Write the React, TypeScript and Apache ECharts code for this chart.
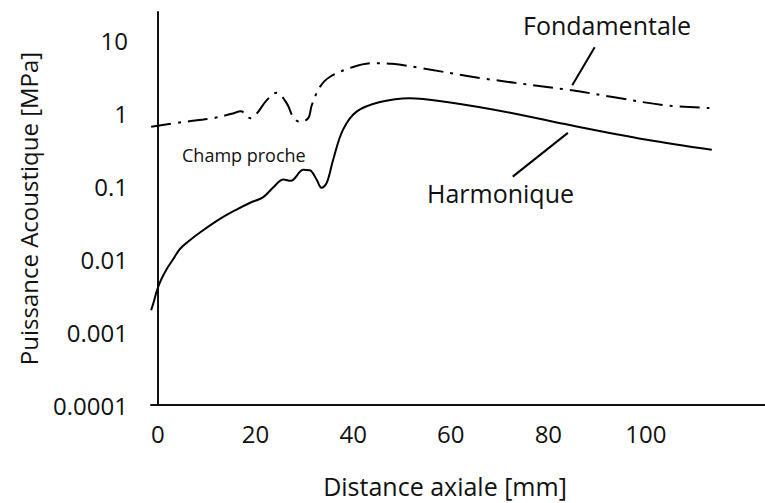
import React, { useEffect, useRef } from "react";
import * as echarts from "echarts";

// Fondamentale (dash-dot)
const fondX = [-1.4, 5.2, 11.3, 15.1, 17.0, 18.9, 20.2, 22.3, 24.3, 26.4, 27.7, 29.1, 30.8, 31.5, 33.2, 35.2, 40, 44, 48, 54.3, 66, 84.8, 93.2, 103.5, 113];
const fondY = [0.665, 0.77, 0.87, 1.0, 1.08, 0.87, 1.0, 1.54, 1.95, 1.39, 0.9, 0.77, 0.87, 1.3, 2.34, 3.2, 4.4, 4.95, 4.85, 4.2, 3.1, 2.1, 1.7, 1.32, 1.2];

// Harmonique (solid)
const harmX = [-1.4, -0.8, -0.3, 0.6, 1.8, 3.0, 4.5, 6.4, 8.6, 12.7, 16, 18.9, 21.5, 23.6, 25.7, 27.2, 29.8, 31.1, 32.5, 33.5, 34.6, 35.9, 37.9, 40.7, 45.5, 51.6, 59.2, 72.7, 84.4, 100.2, 113.5];
const harmY = [0.002, 0.0027, 0.0036, 0.0052, 0.0074, 0.0098, 0.0139, 0.018, 0.0234, 0.036, 0.048, 0.06, 0.071, 0.097, 0.125, 0.12, 0.17, 0.168, 0.125, 0.096, 0.113, 0.234, 0.6, 1.07, 1.45, 1.64, 1.45, 1.02, 0.7, 0.44, 0.32];

// Axis ticks
const xTicks = [0, 20, 40, 60, 80, 100];

// Leader lines (data coordinates)
const fondLeader = [[89.5, 8.2], [84.9, 2.47]];
const harmLeader = [[84.0, 0.547], [72.7, 0.137]];

const FONT = "'Open Sans', 'DejaVu Sans', sans-serif";

function fmtLog(v: number): string {
  const lg = Math.log10(v);
  const e = Math.round(lg);
  if (Math.abs(lg - e) > 1e-6) return "";
  if (e >= 0) return String(Math.pow(10, e));
  return "0." + "0".repeat(-e - 1) + "1";
}

export default function App() {
  const ref = useRef<HTMLDivElement>(null);
  useEffect(() => {
    document.body.style.margin = "0";
    if (!ref.current) return;
    const chart = echarts.init(ref.current, null, { renderer: "svg" });
    const pairs = (xs: number[], ys: number[]) => xs.map((x, i) => [x, ys[i]]);
    const leader = (pts: number[][]) => ({
      silent: true,
      symbol: ["none", "none"],
      label: { show: false },
      lineStyle: { type: "solid", color: "#000", width: 2 },
      data: [[{ coord: pts[0] }, { coord: pts[1] }]],
    });
    chart.setOption({
      animation: false,
      backgroundColor: "#fff",
      grid: { left: 151, right: 0, top: 12, bottom: 95, containLabel: false },
      xAxis: {
        type: "value",
        min: -1.43,
        max: 124.4,
        name: "Distance axiale [mm]",
        nameLocation: "middle",
        nameGap: 68,
        nameTextStyle: { fontFamily: FONT, fontSize: 25, color: "#111", padding: [0, 26, 0, 0] },
        axisLine: { show: true, lineStyle: { color: "#111", width: 2 } },
        axisTick: { show: false },
        splitLine: { show: false },
        axisLabel: {
          customValues: xTicks,
          fontFamily: FONT,
          fontSize: 24,
          color: "#111",
          margin: 16,
        },
      },
      yAxis: {
        type: "log",
        logBase: 10,
        min: 0.0001,
        max: 25,
        name: "Puissance Acoustique [MPa]",
        nameLocation: "middle",
        nameGap: 111,
        nameTextStyle: { fontFamily: FONT, fontSize: 24, color: "#111" },
        axisLine: { show: true, lineStyle: { color: "#111", width: 2 } },
        axisTick: { show: false },
        splitLine: { show: false },
        minorTick: { show: false },
        axisLabel: {
          formatter: (v: number) => fmtLog(v),
          fontFamily: FONT,
          fontSize: 24,
          color: "#111",
          margin: 23,
        },
      },
      series: [
        {
          name: "Fondamentale",
          type: "line",
          data: pairs(fondX, fondY),
          smooth: 0.35,
          showSymbol: false,
          symbol: "none",
          lineStyle: { color: "#000", width: 2, type: [20, 7, 3, 7] },
          markLine: leader(fondLeader),
        },
        {
          name: "Harmonique",
          type: "line",
          data: pairs(harmX, harmY),
          smooth: 0.35,
          showSymbol: false,
          symbol: "none",
          lineStyle: { color: "#000", width: 2, type: "solid" },
          markLine: leader(harmLeader),
        },
      ],
      graphic: [
        {
          type: "text",
          left: 523,
          top: 12,
          style: { text: "Fondamentale", fontFamily: FONT, fontSize: 25, fill: "#111" },
        },
        {
          type: "text",
          left: 427,
          top: 180,
          style: { text: "Harmonique", fontFamily: FONT, fontSize: 25, fill: "#111" },
        },
        {
          type: "text",
          left: 182,
          top: 146,
          style: { text: "Champ proche", fontFamily: FONT, fontSize: 18, fill: "#111" },
        },
      ],
    });
    return () => chart.dispose();
  }, []);
  return <div ref={ref} style={{ width: 765, height: 503 }} />;
}
